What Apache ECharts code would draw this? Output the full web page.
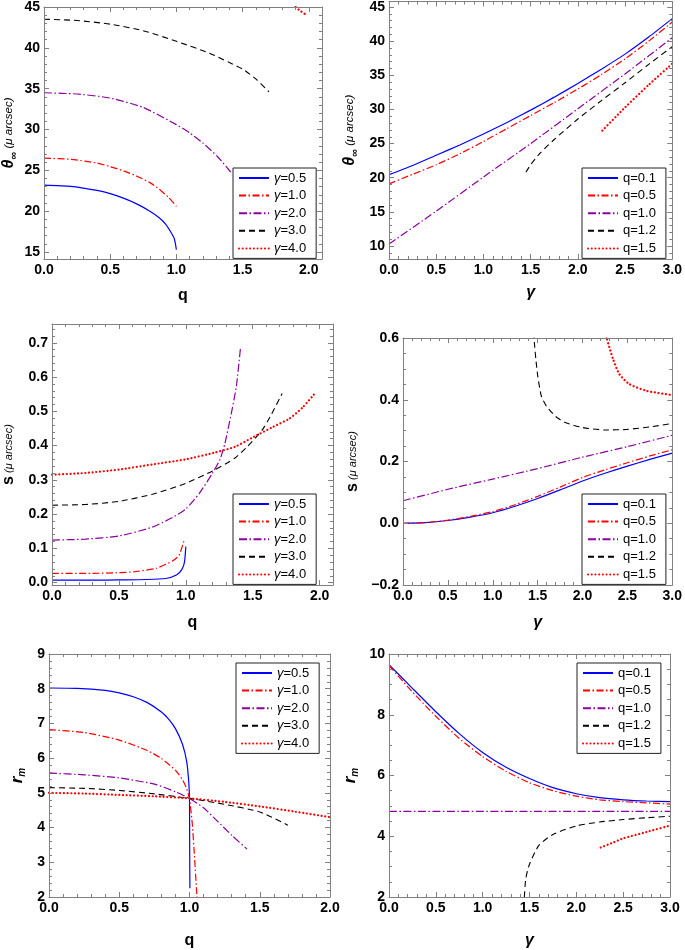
<!DOCTYPE html>
<html><head><meta charset="utf-8">
<script src="https://cdn.jsdelivr.net/npm/echarts@6/dist/echarts.min.js"></script>
<style>html,body{margin:0;padding:0;background:#fff}#c{width:685px;height:950px}</style>
</head><body><div id="c"></div>
<script>
// ---------- DATA ----------
const gammaNames = ['γ=0.5','γ=1.0','γ=2.0','γ=3.0','γ=4.0'];
const qNames = ['q=0.1','q=0.5','q=1.0','q=1.2','q=1.5'];

// Panel 1: theta_inf vs q
const p1_g05 = [[0,23.2],[0.2,23.05],[0.4,22.55],[0.5,22.15],[0.6,21.6],[0.7,20.9],[0.8,20.0],[0.87,19.2],[0.92,18.4],[0.96,17.4],[0.985,16.6],[1.0,15.3]];
const p1_g10 = [[0,26.5],[0.2,26.35],[0.4,25.9],[0.5,25.45],[0.6,24.95],[0.7,24.3],[0.8,23.5],[0.87,22.7],[0.94,21.7],[1.0,20.6]];
const p1_g20 = [[0,34.5],[0.25,34.35],[0.5,33.85],[0.75,32.7],[1.0,30.6],[1.1,29.6],[1.2,28.35],[1.31,26.7],[1.41,24.8]];
const p1_g30 = [[0,43.5],[0.25,43.35],[0.5,42.9],[0.75,42.1],[1.0,40.8],[1.25,39.35],[1.4,38.2],[1.5,37.4],[1.6,36.2],[1.7,34.6]];
const p1_g40 = [[1.88,45.3],[1.93,44.6],[1.985,44.0]];
// Panel 2: theta_inf vs gamma
const p2_q01 = [[0,20.45],[0.25,21.8],[0.5,23.3],[0.75,24.8],[1.0,26.4],[1.25,28.1],[1.5,29.9],[1.75,31.8],[2.0,33.8],[2.25,35.9],[2.5,38.1],[2.75,40.6],[3.0,43.3]];
const p2_q05 = [[0,19.1],[0.25,20.5],[0.5,21.9],[0.75,23.5],[1.0,25.3],[1.25,27.2],[1.5,29.1],[1.75,31.0],[2.0,33.0],[2.25,35.1],[2.5,37.4],[2.75,40.0],[3.0,42.8]];
const p2_q10 = [[0,10.3],[0.5,15.1],[1.0,20.1],[1.5,25.0],[2.0,30.1],[2.5,35.2],[3.0,40.5]];
const p2_q12 = [[1.45,20.8],[1.5,21.9],[1.6,23.6],[1.75,25.6],[2.0,28.6],[2.25,31.3],[2.5,33.9],[2.75,36.6],[3.0,39.2]];
const p2_q15 = [[2.26,26.9],[2.4,28.9],[2.5,30.3],[2.75,33.6],[3.0,36.7]];
// Panel 3: s vs q
const p3_g05 = [[0,0.007],[0.3,0.007],[0.5,0.008],[0.7,0.009],[0.85,0.012],[0.93,0.022],[0.97,0.038],[0.99,0.06],[1.0,0.105]];
const p3_g10 = [[0,0.027],[0.3,0.027],[0.5,0.029],[0.62,0.032],[0.78,0.042],[0.9,0.063],[0.95,0.08],[0.99,0.127]];
const p3_g20 = [[0,0.124],[0.25,0.127],[0.5,0.136],[0.75,0.162],[0.9,0.19],[1.0,0.215],[1.1,0.26],[1.2,0.32],[1.256,0.36],[1.292,0.406],[1.34,0.494],[1.377,0.571],[1.408,0.683]];
const p3_g30 = [[0,0.226],[0.25,0.228],[0.5,0.237],[0.75,0.258],[1.0,0.29],[1.2,0.326],[1.365,0.363],[1.46,0.397],[1.57,0.445],[1.63,0.484],[1.72,0.552]];
const p3_g40 = [[0,0.315],[0.25,0.32],[0.5,0.33],[0.75,0.345],[1.0,0.36],[1.22,0.38],[1.365,0.396],[1.51,0.426],[1.654,0.455],[1.775,0.479],[1.872,0.511],[1.97,0.555]];
// Panel 4: s vs gamma
const p4_q01 = [[0,0.0],[0.25,0.002],[0.5,0.009],[0.75,0.02],[1.0,0.034],[1.25,0.055],[1.5,0.08],[1.75,0.108],[2.0,0.137],[2.25,0.162],[2.5,0.185],[2.75,0.207],[3.0,0.227]];
const p4_q05 = [[0,0.0],[0.25,0.002],[0.5,0.01],[0.75,0.022],[1.0,0.038],[1.25,0.06],[1.5,0.087],[1.75,0.117],[2.0,0.148],[2.25,0.173],[2.5,0.196],[2.75,0.218],[3.0,0.238]];
const p4_q10 = [[0,0.073],[0.5,0.11],[1.0,0.143],[1.5,0.177],[2.0,0.214],[2.5,0.248],[3.0,0.285]];
const p4_q12 = [[1.455,0.62],[1.465,0.58],[1.48,0.532],[1.5,0.48],[1.54,0.413],[1.6,0.378],[1.7,0.346],[1.8,0.327],[2.0,0.31],[2.25,0.302],[2.5,0.304],[2.75,0.312],[3.0,0.323]];
const p4_q15 = [[2.26,0.63],[2.27,0.6],[2.34,0.532],[2.41,0.483],[2.52,0.451],[2.71,0.429],[3.0,0.415]];
// Panel 5: r_m vs q
const p5_g05 = [[0,8.02],[0.2,8.01],[0.4,7.95],[0.5,7.88],[0.6,7.77],[0.7,7.6],[0.8,7.33],[0.85,7.13],[0.9,6.85],[0.95,6.4],[0.98,5.9],[0.995,5.3],[1.0,4.8],[1.001,3.8],[1.002,2.8],[1.003,2.25]];
const p5_g10 = [[0,6.82],[0.25,6.74],[0.5,6.52],[0.7,6.22],[0.8,5.99],[0.9,5.65],[0.95,5.38],[0.98,5.12],[1.0,4.83],[1.02,4.1],[1.035,3.2],[1.05,2.2],[1.06,1.6]];
const p5_g20 = [[0,5.57],[0.25,5.52],[0.5,5.43],[0.75,5.25],[0.9,5.03],[1.0,4.84],[1.1,4.57],[1.2,4.18],[1.3,3.78],[1.41,3.38]];
const p5_g30 = [[0,5.15],[0.25,5.13],[0.5,5.07],[0.75,4.97],[1.0,4.84],[1.25,4.67],[1.5,4.45],[1.7,4.07]];
const p5_g40 = [[0,5.0],[0.25,4.98],[0.5,4.94],[0.75,4.9],[1.0,4.84],[1.25,4.74],[1.5,4.61],[1.75,4.46],[2.0,4.3]];
// Panel 6: r_m vs gamma
const p6_q01 = [[0,9.65],[0.25,8.87],[0.5,8.1],[0.75,7.38],[1.0,6.76],[1.25,6.27],[1.5,5.9],[1.75,5.6],[2.0,5.4],[2.25,5.27],[2.5,5.2],[2.75,5.16],[3.0,5.14]];
const p6_q05 = [[0,9.62],[0.25,8.75],[0.5,7.95],[0.75,7.22],[1.0,6.62],[1.25,6.14],[1.5,5.76],[1.75,5.5],[2.0,5.32],[2.25,5.2],[2.5,5.14],[2.75,5.1],[3.0,5.06]];
const p6_q10 = [[0,4.82],[3.0,4.82]];
const p6_q12 = [[1.445,2.0],[1.46,2.6],[1.5,3.08],[1.6,3.7],[1.75,4.06],[2.0,4.34],[2.25,4.47],[2.5,4.55],[2.75,4.61],[3.0,4.66]];
const p6_q15 = [[2.26,3.63],[2.4,3.8],[2.5,3.93],[2.75,4.14],[3.0,4.35]];

// tick labels
const ticksQ = [0,0.5,1.0,1.5,2.0];
const ticksG = [0,0.5,1.0,1.5,2.0,2.5,3.0];
const ticksTheta = [15,20,25,30,35,40,45];
const ticksTheta2 = [10,15,20,25,30,35,40,45];
const ticksS1 = [0,0.1,0.2,0.3,0.4,0.5,0.6,0.7];
const ticksS2 = [-0.2,0,0.2,0.4,0.6];
const ticksR1 = [2,3,4,5,6,7,8,9];
const ticksR2 = [2,4,6,8,10];

// ---------- STYLE / LAYOUT ----------
const FONT = '"Liberation Sans", Arial, Helvetica, sans-serif';
const GRAY = '#808080';
const STY = [
  {color:'#0000ff', width:1.2, type:'solid'},
  {color:'#ff0000', width:1.2, type:[7,2.5,1.5,2.5]},
  {color:'#8c00a0', width:1.2, type:[8,2.5,1.5,2.5]},
  {color:'#000000', width:1.1, type:[6,4]},
  {color:'#ff0000', width:2.2, type:[0.1,3.6], cap:'round'}
];

function minorList(min, max, step){
  const out=[]; const s=Math.ceil(min/step-1e-9), e=Math.floor(max/step+1e-9);
  for(let i=s;i<=e;i++) out.push(+(i*step).toFixed(6));
  return out;
}
const fmt1 = v => (v<0?'\u2212':'') + Math.abs(v).toFixed(1);
const fmt0 = v => String(Math.round(v));

const xNameQ = {name:'q', style:{color:'#000', fontFamily:FONT, fontSize:16, fontWeight:'bold'}};
const xNameG = {name:'γ', style:{color:'#000', fontFamily:FONT, fontSize:16, fontWeight:'bold', fontStyle:'italic'}};
const richBase = {color:'#000', fontFamily:FONT};
const yNameTheta = {name:'{t|θ}{s|∞}{u| (μ arcsec)}', style:{color:'#000', fontFamily:FONT, rich:{
  t:{...richBase, fontSize:16, fontWeight:'bold', fontStyle:'italic', lineHeight:20, verticalAlign:'middle'},
  s:{...richBase, fontSize:11, fontWeight:'bold', lineHeight:10, verticalAlign:'bottom'},
  u:{...richBase, fontSize:11.5, fontStyle:'italic', lineHeight:14, verticalAlign:'middle'}}}};
const yNameS = {name:'{t|s}{u| (μ arcsec)}', style:{color:'#000', fontFamily:FONT, rich:{
  t:{...richBase, fontSize:16, fontWeight:'bold', lineHeight:20, verticalAlign:'middle'},
  u:{...richBase, fontSize:11, fontStyle:'italic', lineHeight:14, verticalAlign:'middle'}}}};
const yNameR = {name:'{t|r}{s|m}', style:{color:'#000', fontFamily:FONT, rich:{
  t:{...richBase, fontSize:17, fontWeight:'bold', fontStyle:'italic', lineHeight:20, verticalAlign:'middle'},
  s:{...richBase, fontSize:10, fontWeight:'bold', fontStyle:'italic', lineHeight:10, verticalAlign:'bottom'}}}};

const panels = [
  {grid:{left:41, top:6, width:281, height:253}, x:{min:0,max:2.1,majors:ticksQ,minor:0.1,fmt:fmt1,nm:xNameQ,gap:29},
   y:{min:14.15,max:45,majors:ticksTheta,minor:1,fmt:fmt0,nm:yNameTheta,gap:25}, names:gammaNames,
   data:[p1_g05,p1_g10,p1_g20,p1_g30,p1_g40], legend:{left:233, top:168}},
  {grid:{left:389, top:1, width:288, height:258}, x:{min:0,max:3,majors:ticksG,minor:0.1,fmt:fmt1,nm:xNameG,gap:26},
   y:{min:8.1,max:45.8,majors:ticksTheta2,minor:1,fmt:fmt0,nm:yNameTheta,gap:29}, names:qNames,
   data:[p2_q01,p2_q05,p2_q10,p2_q12,p2_q15], legend:{left:582, top:168}},
  {grid:{left:45, top:324, width:288, height:261}, x:{min:0,max:2.1,majors:ticksQ,minor:0.1,fmt:fmt1,nm:xNameQ,gap:30},
   y:{min:-0.007,max:0.755,majors:ticksS1,minor:0.02,fmt:fmt1,nm:yNameS,gap:33}, names:gammaNames,
   data:[p3_g05,p3_g10,p3_g20,p3_g30,p3_g40], legend:{left:233, top:494}},
  {grid:{left:403, top:338, width:274, height:247}, x:{min:0,max:3,majors:ticksG,minor:0.1,fmt:fmt1,nm:xNameG,gap:30},
   y:{min:-0.2,max:0.6,majors:ticksS2,minor:0.05,fmt:fmt1,nm:yNameS,gap:40}, names:qNames,
   data:[p4_q01,p4_q05,p4_q10,p4_q12,p4_q15], legend:{left:582, top:494}},
  {grid:{left:49, top:654, width:281, height:254}, x:{min:0,max:2,majors:ticksQ,minor:0.1,fmt:fmt1,nm:xNameQ,gap:36},
   y:{min:2,max:9,majors:ticksR1,minor:0.2,fmt:fmt0,nm:yNameR,gap:22}, names:gammaNames,
   data:[p5_g05,p5_g10,p5_g20,p5_g30,p5_g40], legend:{left:236, top:663}},
  {grid:{left:389, top:654, width:281, height:254}, x:{min:0,max:3,majors:ticksG,minor:0.1,fmt:fmt1,nm:xNameG,gap:36},
   y:{min:2,max:10,majors:ticksR2,minor:0.5,fmt:fmt0,nm:yNameR,gap:29}, names:qNames,
   data:[p6_q01,p6_q05,p6_q10,p6_q12,p6_q15], legend:{left:577, top:663}}
];

function axisSet(g, dim, spec){
  const posMain = dim==='x'?'bottom':'left', posOpp = dim==='x'?'top':'right';
  const minors = minorList(spec.min, spec.max, spec.minor);
  const base = (pos, ticks, len, withLabel, showLine) => ({
    gridIndex:g, type:'value', min:spec.min, max:spec.max, position:pos,
    axisLine:{show:showLine, onZero:false, lineStyle:{color:GRAY, width:1}},
    axisTick:{show:true, inside:true, length:len, customValues:ticks, lineStyle:{color:GRAY, width:1}},
    axisLabel: withLabel ? {show:true, customValues:spec.majors, formatter:spec.fmt,
      margin:4, color:'#000', fontSize:14, fontWeight:'bold', fontFamily:FONT, hideOverlap:false} : {show:false},
    splitLine:{show:false}, minorTick:{show:false}, minorSplitLine:{show:false}, z:5
  });
  const a = base(posMain, spec.majors, 5, true, true);
  a.name = spec.nm.name; a.nameLocation='middle'; a.nameGap=spec.gap; a.nameTextStyle=spec.nm.style;
  return [a, base(posMain, minors, 3, false, false), base(posOpp, spec.majors, 5, false, true), base(posOpp, minors, 3, false, false)];
}

const grids=[], xAxes=[], yAxes=[], series=[], legends=[];
panels.forEach((p,g)=>{
  grids.push({...p.grid, containLabel:false});
  xAxes.push(...axisSet(g,'x',p.x));
  yAxes.push(...axisSet(g,'y',p.y));
  p.data.forEach((d,i)=>{
    series.push({type:'line', name:p.names[i], xAxisIndex:4*g, yAxisIndex:4*g, data:d,
      showSymbol:false, symbol:'none', smooth:0.2, clip:true,
      lineStyle:{...STY[i]}, itemStyle:{color:STY[i].color}, z:3});
  });
  legends.push({left:p.legend.left, top:p.legend.top, orient:'vertical', data:p.names,
    itemWidth:30, itemHeight:13, itemGap:3.6, padding:[3,10,3,5], selectedMode:false,
    borderColor:'#222', borderWidth:1, backgroundColor:'#fff', z:6,
    itemStyle:{color:'rgba(0,0,0,0)', borderColor:'rgba(0,0,0,0)', borderWidth:0, opacity:0},
    formatter: n => n.startsWith('γ') ? '{i|γ}' + n.slice(1) : n,
    textStyle:{color:'#000', fontSize:13, fontFamily:FONT, lineHeight:14,
      rich:{i:{fontStyle:'italic', fontSize:13, fontFamily:FONT, color:'#000', lineHeight:14}}}});
});

const chart = echarts.init(document.getElementById('c'), null, {renderer:'canvas'});
chart.setOption({animation:false, backgroundColor:'#fff', grid:grids, xAxis:xAxes, yAxis:yAxes, series, legend:legends});
</script></body></html>
